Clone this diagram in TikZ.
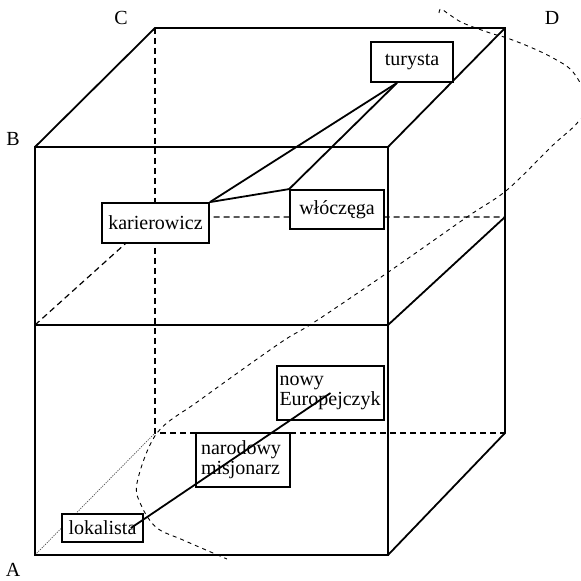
\documentclass[tikz,border=0pt]{standalone}
\usepackage{fontspec}
\setmainfont{Liberation Serif}
\usetikzlibrary{positioning,calc}

\begin{document}
\begin{tikzpicture}[x=0.5pt,y=-0.5pt,
    edge/.style = {black,line width=0.9pt},
    hidden/.style = {black,line width=0.6pt,dash pattern=on 3pt off 2pt},
    diag/.style = {black!70,line width=0.35pt,dash pattern=on 0.6pt off 0.6pt},
    zone/.style = {black,line width=0.45pt,dash pattern=on 2pt off 2pt},
    link/.style = {black,line width=0.9pt},
    typ/.style = {draw,line width=0.9pt,fill=white,inner sep=0pt,font=\fontsize{10}{10}\selectfont},
    corner/.style = {font=\fontsize{10}{10}\selectfont}]
  \useasboundingbox (0,0) rectangle (580,581);
  % vertices of the cube
  \coordinate (A) at (35,555);
  \coordinate (B) at (35,147);
  \coordinate (M) at (35,325);
  \coordinate (Fb) at (388,555);
  \coordinate (Ft) at (388,147);
  \coordinate (Fm) at (388,325);
  \coordinate (C) at (155,28);
  \coordinate (Cb) at (155,433);
  \coordinate (Cm) at (155,217);
  \coordinate (D) at (505,28);
  \coordinate (Db) at (505,433);
  \coordinate (Dm) at (505,217);

  \draw [hidden] (C) -- (Cb) -- (Db);
  \draw [hidden] (M) -- (Cm) -- (Dm);
  \draw [diag] (A) -- (Cb);
  \draw [edge] (A) rectangle (Ft);
  \draw [edge] (M) -- (Fm) -- (Dm);
  \draw [edge] (B) -- (C) -- (D) -- (Db) -- (Fb);
  \draw [edge] (Ft) -- (D);

  \node [corner] (lA) at (13,570) {A};
  \node [corner] (lB) at (13,139) {B};
  \node [corner] (lC) at (121,18) {C};
  \node [corner] (lD) at (552,18) {D};

  \begin{scope}
    \clip (0,0) rectangle (580,581);
    \draw [zone] plot [smooth,tension=0.55] coordinates {
      (439,13) (441,9) (450,15) (463,23) (490,33) (507,38) (530,47) (553,58)
      (573,72) (587,100) (578,122) (552,146) (507,190) (467,217) (387,273)
      (313,323) (280,343) (200,400) (157,433) (137,483) (142,507) (157,528)
      (183,540) (227,559)};
  \end{scope}

  \node [typ,minimum width=41pt,minimum height=20pt] (tur) at (412,62) {turysta};
  \node [typ,minimum width=53.5pt,minimum height=20pt] (kar) at (155.5,223) {karierowicz};
  \node [typ,minimum width=47pt,minimum height=19.5pt] (wlo) at (337,209.5) {włóczęga};
  \node [typ,minimum height=27pt,text width=51pt,inner xsep=1.25pt,align=left] (eur) at (330.5,393) {nowy\\Europejczyk};
  \node [typ,minimum height=27pt,text width=42pt,inner xsep=2.5pt,align=left] (nar) at (243,460) {narodowy\\misjonarz};
  \node [typ,minimum width=40.5pt,minimum height=14pt] (lok) at (102.5,528) {lokalista};

  \draw [link] ([xshift=-7.5pt]tur.south) -- (kar.north east);
  \draw [link] ([xshift=-7.5pt]tur.south) -- (wlo.north west);
  \draw [link] (kar.north east) -- (wlo.north west);
  \draw [link] ([xshift=-6.5pt]lok.east) -- (eur.center);
\end{tikzpicture}
\end{document}
